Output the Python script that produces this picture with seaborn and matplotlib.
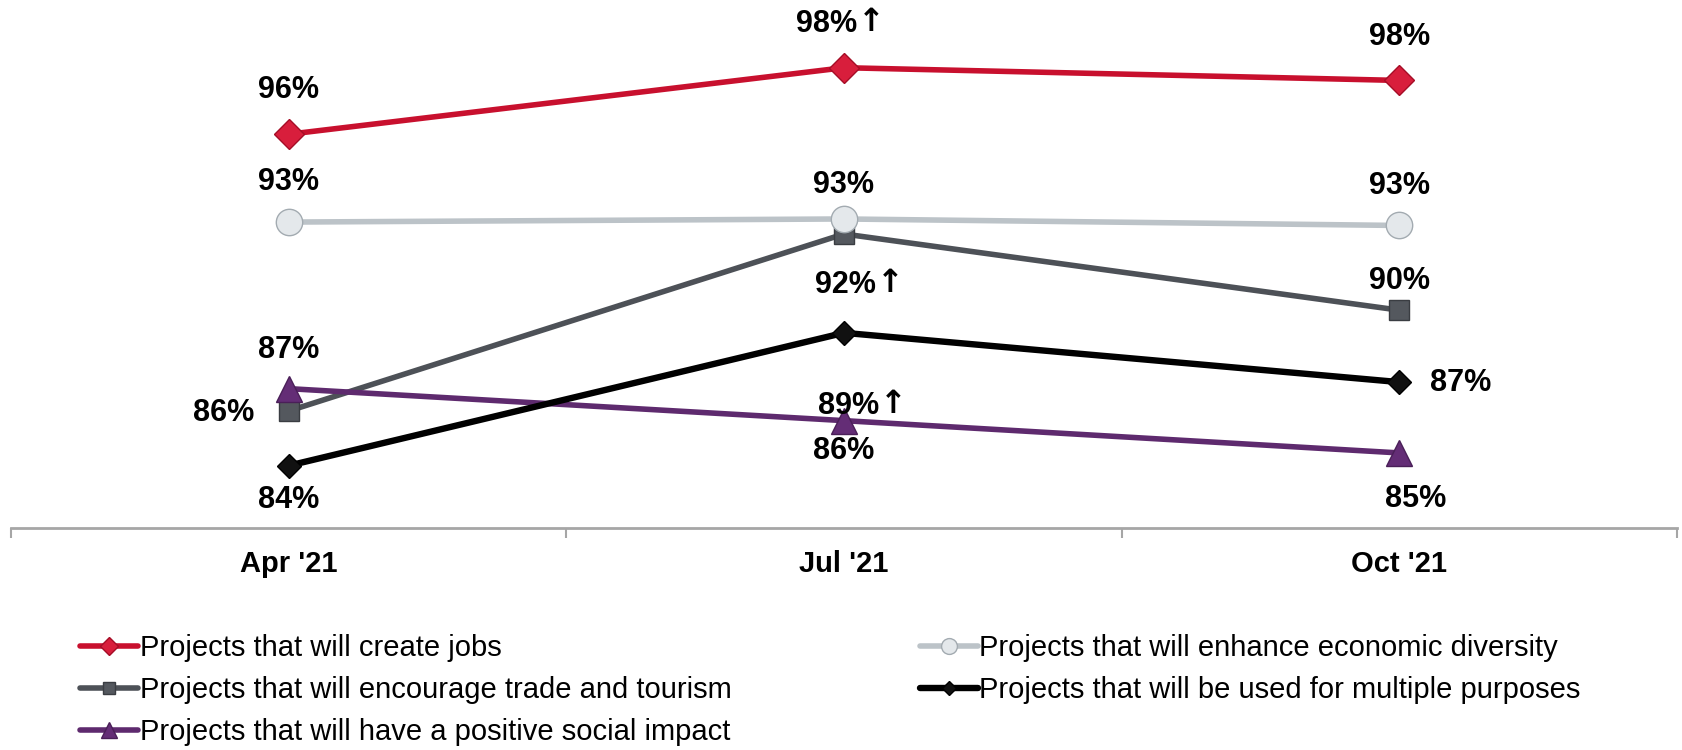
import matplotlib
matplotlib.use("Agg")
import matplotlib.pyplot as plt
import pandas as pd
import seaborn as sns

waves = ["Apr '21", "Jul '21", "Oct '21"]

series = [
    "Projects that will create jobs",
    "Projects that will encourage trade and tourism",
    "Projects that will have a positive social impact",
    "Projects that will enhance economic diversity",
    "Projects that will be used for multiple purposes",
]

jobs = [95.96, 98.31, 97.86]
trade = [86.19, 92.44, 89.75]
social = [86.98, 85.85, 84.71]
diversity = [92.86, 92.97, 92.74]
multiple = [84.26, 88.95, 87.21]

jobs_labels = ["96%", "98%", "98%"]
trade_labels = ["86%", "92%", "90%"]
social_labels = ["87%", "86%", "85%"]
diversity_labels = ["93%", "93%", "93%"]
multiple_labels = ["84%", "89%", "87%"]

# significant increase flags (shown with an up arrow)
jobs_up = [False, True, False]
trade_up = [False, True, False]
social_up = [False, False, False]
diversity_up = [False, False, False]
multiple_up = [False, True, False]


def plot():
    sns.set_style("white")
    plt.rcParams["font.family"] = ["Liberation Sans", "DejaVu Sans"]
    plt.rcParams["text.color"] = "black"

    values = [jobs, trade, social, diversity, multiple]
    labels = [jobs_labels, trade_labels, social_labels, diversity_labels, multiple_labels]
    ups = [jobs_up, trade_up, social_up, diversity_up, multiple_up]
    df = pd.DataFrame(
        {
            "wave": waves * len(series),
            "value": [v for vals in values for v in vals],
            "series": [s for s in series for _ in waves],
        }
    )

    styles = {
        series[0]: dict(color="#C8102E", marker="D", ms=15, mfc="#D81E3C", mec="#A50D26", lw=4),
        series[1]: dict(color="#4D5157", marker="s", ms=14, mfc="#54585E", mec="#3A3D42", lw=4),
        series[2]: dict(color="#5E2A6E", marker="^", ms=19, mfc="#642D76", mec="#4A1F58", lw=4),
        series[3]: dict(color="#BCC3C8", marker="o", ms=19, mfc="#E4E8EB", mec="#A3ABB1", lw=4),
        series[4]: dict(color="#000000", marker="D", ms=12, mfc="#111111", mec="#000000", lw=4.6),
    }
    # label offsets in pixels (dx, dy) from the point
    offsets = {
        series[0]: [(0, 44), (0, 44), (0, 43)],
        series[1]: [(-65, -2), (19, -51), (0, 29)],
        series[2]: [(0, 39), (0, -30), (16, -46)],
        series[3]: [(0, 40), (0, 34), (0, 39)],
        series[4]: [(0, -34), (22, -73), (61, -1)],
    }

    fig = plt.figure(figsize=(16.82, 7.5), dpi=100)
    ax = fig.add_axes([11 / 1682, 1 - 528 / 750, 1666 / 1682, 528 / 750])

    for name in series:
        st = styles[name]
        sns.lineplot(
            data=df[df["series"] == name],
            x="wave",
            y="value",
            color=st["color"],
            lw=st["lw"],
            marker=st["marker"],
            markersize=st["ms"],
            markerfacecolor=st["mfc"],
            markeredgecolor=st["mec"],
            markeredgewidth=1,
            label=name,
            ax=ax,
            zorder=3,
        )

    for name, vals, labs, up in zip(series, values, labels, ups):
        for i, (v, lab) in enumerate(zip(vals, labs)):
            dx, dy = offsets[name][i]
            if up[i]:
                ax.annotate(lab, (i, v), xytext=(dx + 13, dy), textcoords="offset pixels",
                            ha="right", va="center", fontsize=22, fontweight="bold",
                            color="black")
                ax.annotate("\u2191", (i, v), xytext=(dx + 14, dy + 1), textcoords="offset pixels",
                            ha="left", va="center", fontsize=23, fontweight="bold",
                            family="DejaVu Sans", color="black")
            else:
                ax.annotate(lab, (i, v), xytext=(dx, dy), textcoords="offset pixels",
                            ha="center", va="center", fontsize=22, fontweight="bold",
                            color="black")

    ax.set_xlim(-0.5, 2.5)
    ax.set_ylim(82.06, 100.7)
    ax.set_xlabel("")
    ax.set_ylabel("")
    ax.set_yticks([])
    ax.set_xticks(range(len(waves)))
    ax.set_xticklabels(waves, fontsize=21, fontweight="bold")
    ax.set_xticks([-0.5, 0.5, 1.5, 2.5], minor=True)
    ax.tick_params(axis="x", which="major", length=0, pad=16, labelcolor="black")
    ax.tick_params(axis="x", which="minor", bottom=True, length=7, width=1.5,
                   color="#A6A6A6", direction="out")
    for side in ["top", "left", "right"]:
        ax.spines[side].set_visible(False)
    ax.spines["bottom"].set_color("#A6A6A6")
    ax.spines["bottom"].set_linewidth(2)
    ax.patch.set_alpha(0)

    ax.legend_.remove()
    handles, hlabels = ax.get_legend_handles_labels()
    leg = fig.legend(
        handles,
        hlabels,
        ncol=2,
        loc="upper left",
        bbox_to_anchor=(80 / 1682, 1 - 634 / 750),
        frameon=False,
        fontsize=21,
        handlelength=2.0,
        handletextpad=0.05,
        columnspacing=6.45,
        labelspacing=0.48,
        borderpad=0,
        borderaxespad=0,
        markerscale=0.6,
    )
    for t in leg.get_texts():
        t.set_color("black")

    fig.savefig("out.png", dpi=100)


if __name__ == "__main__":
    plot()
